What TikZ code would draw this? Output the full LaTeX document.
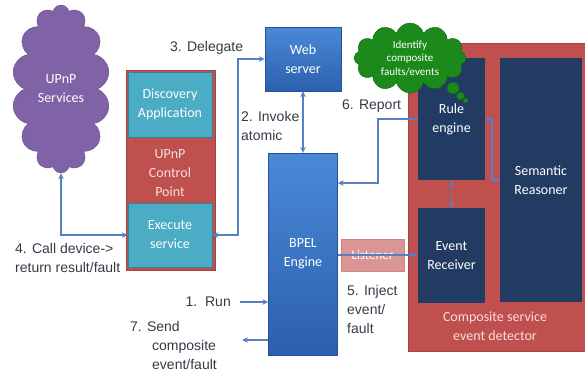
\documentclass[tikz,border=0pt]{standalone}
\usepackage{fontspec}
\setmainfont{Carlito}
\newfontfamily\lblfont{Liberation Sans}
\usetikzlibrary{shapes.symbols,arrows.meta}
\definecolor{upnppurple}{RGB}{128,98,166}
\definecolor{cpred}{RGB}{192,80,77}
\definecolor{tealc}{RGB}{75,172,198}
\definecolor{bluetop}{RGB}{74,137,214}
\definecolor{bluebot}{RGB}{44,96,174}
\definecolor{navy}{RGB}{34,59,98}
\definecolor{cloudgreen}{RGB}{27,138,27}
\definecolor{lstfill}{RGB}{217,150,148}
\definecolor{flowc}{RGB}{85,128,195}
\definecolor{lblc}{RGB}{52,58,70}
\definecolor{pinktext}{RGB}{246,222,220}

\begin{document}
\begin{tikzpicture}[x=1pt,y=-1pt,>={Stealth[length=6pt,width=5.5pt]},
  blk/.style={rectangle,align=center,inner sep=0pt,text=white,
    font=\fontsize{14}{19}\selectfont},
  bluebox/.style={blk,top color=bluetop,bottom color=bluebot,draw=bluebot!85!black},
  tealbox/.style={blk,fill=tealc,draw=tealc!75!black},
  navybox/.style={blk,fill=navy},
  redbox/.style={blk,fill=cpred,draw=cpred!85!black},
  flow/.style={draw=flowc,line width=1.5pt},
  lbl/.style={inner sep=0pt,align=left,text=lblc,
    font=\lblfont\fontsize{14}{19}\selectfont}]
\useasboundingbox (0,0) rectangle (585,375);
% Dienste links
\node[blk,cloud,cloud puffs=14,cloud ignores aspect,minimum width=98pt,minimum height=168pt,
  fill=upnppurple,draw=upnppurple!85!black] (ups) at (61,89) {UPnP\\Services};
% UPnP Control Point mit Teilkaesten
\node[redbox,minimum width=89pt,minimum height=200pt] (cp) at (170.5,170) {};
\node[blk,text=pinktext] (cptext) at (170,173) {UPnP\\Control\\Point};
\node[tealbox,minimum width=84pt,minimum height=65pt] (disc) at (170,104.5) {Discovery\\Application};
\node[tealbox,minimum width=84pt,minimum height=64pt] (exec) at (170,235) {Execute\\service};
% Web server und BPEL
\node[bluebox,minimum width=76pt,minimum height=64pt] (web) at (303,59) {Web\\server};
\node[bluebox,minimum width=69pt,minimum height=202pt] (bpel) at (303,254) {BPEL\\Engine};
\node[blk,fill=lstfill,draw=cpred!70,minimum width=63pt,minimum height=32pt,
  font=\fontsize{13}{16}\selectfont] (lst) at (372.5,255) {Listener};
% Composite service event detector
\node[redbox,minimum width=177pt,minimum height=308pt] (ced) at (496.5,197) {};
\node[blk,text=pinktext] (cedtext) at (495,326) {Composite service\\event detector};
\node[navybox,minimum width=67pt,minimum height=122pt] (rule) at (451.5,119) {Rule\\engine};
\node[navybox,minimum width=82pt,minimum height=244pt] (sem) at (541,180) {Semantic\\Reasoner};
\node[navybox,minimum width=67pt,minimum height=95pt] (evt) at (451.5,255.5) {Event\\Receiver};
% Denkblase
\node[blk,cloud,cloud puffs=12,cloud ignores aspect,minimum width=112pt,minimum height=70pt,
  fill=cloudgreen,draw=cloudgreen!70!black,font=\fontsize{11}{13.5}\selectfont]
  (think) at (410,58) {Identify\\composite\\faults/events};
\filldraw[fill=cloudgreen,draw=cloudgreen!70!black] (453,88) circle (6pt);
\filldraw[fill=cloudgreen,draw=cloudgreen!70!black] (460.5,96) circle (4pt);
\filldraw[fill=cloudgreen,draw=cloudgreen!70!black] (465.5,100.5) circle (2.5pt);
% Hilfspunkte fuer Knicke
\coordinate (dl) at (238,59);
\coordinate (rp) at (378,183);
\coordinate (rs) at (492,180);
\coordinate (run) at (240,302);
\coordinate (snd) at (242,340);
% Verbindungen
\draw[flow,<->] (ups.south) |- (exec.west);
\draw[flow,<->] (exec.east) -| (dl) -- (web.west);
\draw[flow,<->] (web) -- (bpel);
\draw[flow,->] (rule.west) -| (rp) -- (bpel.east |- rp);
\draw[flow,<->] (rule.east) -| (rs) -- (sem.west |- rs);
\draw[flow,<->] (rule) -- (evt);
\draw[flow,->] (bpel.east |- lst) -- (evt.west |- lst);
\draw[flow,->] (run) -- (bpel.west |- run);
\draw[flow,->] (bpel.west |- snd) -- (snd);
% Beschriftungen
\node[lbl,anchor=west] (l4) at (15,257.5) {4. Call device->\\return result/fault};
\node[lbl,anchor=west] (l3) at (170,48) {3. Delegate};
\node[lbl,anchor=west] (l2) at (241,126) {2. Invoke\\atomic};
\node[lbl,anchor=west] (l6) at (342,106) {6. Report};
\node[lbl,anchor=west] (l5) at (347,309) {5. Inject\\event/\\fault};
\node[lbl,anchor=east] (l1) at (231,302) {1.\ \ Run};
\node[lbl,anchor=west] (l7) at (130,345) {7. Send\\\hspace*{22pt}composite\\\hspace*{22pt}event/fault};
\end{tikzpicture}
\end{document}
